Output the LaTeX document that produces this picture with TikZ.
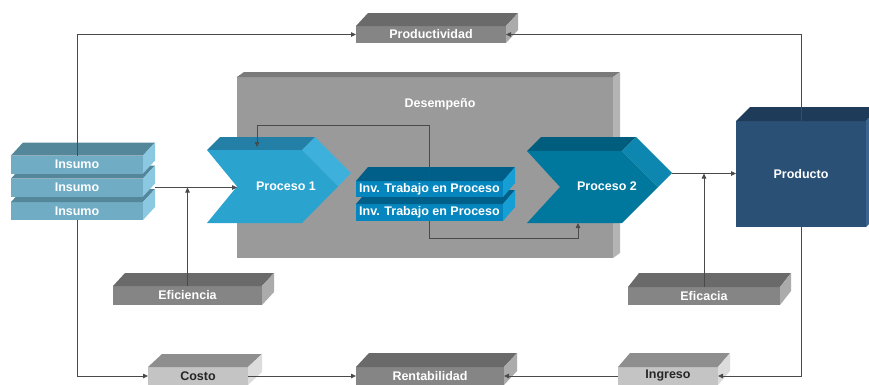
\documentclass[tikz,border=0pt]{standalone}
\usepackage{fontspec}
\setmainfont{Liberation Sans}
\usetikzlibrary{calc,arrows.meta}
\definecolor{gF}{HTML}{858585}\definecolor{gT}{HTML}{6A6A6A}\definecolor{gS}{HTML}{ABABAB}
\definecolor{lF}{HTML}{C4C4C4}\definecolor{lT}{HTML}{8E8E8E}\definecolor{lS}{HTML}{DCDCDC}
\definecolor{iF}{HTML}{70ACC4}\definecolor{iT}{HTML}{55879B}\definecolor{iS}{HTML}{8AC9E1}
\definecolor{pF}{HTML}{2BA3CF}\definecolor{pT}{HTML}{237FA6}\definecolor{pS}{HTML}{3DB0DC}
\definecolor{vF}{HTML}{0586BE}\definecolor{vT}{HTML}{005F88}\definecolor{vS}{HTML}{159FD5}
\definecolor{qF}{HTML}{00789E}\definecolor{qT}{HTML}{005D7E}\definecolor{qS}{HTML}{0E87B0}
\definecolor{rF}{HTML}{2A5075}\definecolor{rT}{HTML}{1E3C5A}\definecolor{rS}{HTML}{3A6590}
\definecolor{dF}{HTML}{9A9A9A}\definecolor{dT}{HTML}{7A7A7A}\definecolor{dS}{HTML}{B4B4B4}
\definecolor{ln}{HTML}{4A4A4A}
\newcommand\boxfaces[5]{%
  \fill[#2] (#1.north west) -- ++(#4,-#5) -- ($(#1.north east)+(#4,-#5)$) -- (#1.north east) -- cycle;
  \fill[#3] (#1.north east) -- ++(#4,-#5) -- ($(#1.south east)+(#4,-#5)$) -- (#1.south east) -- cycle;}
\tikzset{
  lab/.style={font=\fontsize{12.5}{14}\selectfont\bfseries},
  front/.style={lab,inner sep=0,outer sep=0,text=white},
  conn/.style={draw=ln,line width=0.8pt,-{Triangle[length=5pt,width=4.5pt]}},
  plain/.style={draw=ln,line width=0.8pt}
}
\begin{document}
\begin{tikzpicture}[x=1pt,y=-1pt]
\clip (0,0) rectangle (869,384);
\fill[white] (0,0) rectangle (869,384);
% Desempeno
\node[front,fill=dF,minimum width=376,minimum height=181] (desemp) at (425,167.5) {};
\boxfaces{desemp}{dT}{dS}{7}{5}
\node[front] (desempt) at (440,104) {Desempeño};
% Proceso 1
\fill[pT] (207,150) -- (220,137) -- (315,137) -- (302,150) -- cycle;
\fill[pS] (302,150) -- (315,137) -- (351,173) -- (338,186.5) -- cycle;
\fill[pF] (207,150) -- (302,150) -- (338,186.5) -- (302,223) -- (207,223) -- (237,186.5) -- cycle;
\node[front] (p1) at (286,186.5) {Proceso 1};
\coordinate (p1notch) at (237,186.5);
\coordinate (p1top) at (257,147);
\coordinate (fbturn) at (257,125);
% Proceso 2
\fill[qT] (527,151) -- (541,137) -- (636,137) -- (622,151) -- cycle;
\fill[qS] (622,151) -- (636,137) -- (672,173) -- (658,187) -- cycle;
\fill[qF] (527,151) -- (622,151) -- (658,187) -- (622,223) -- (527,223) -- (560,187) -- cycle;
\node[front] (p2) at (607,186.5) {Proceso 2};
\coordinate (p2tip) at (672,173.5);
\coordinate (p2bot) at (578,223);
% Inv boxes
\node[front,fill=vF,minimum width=147,minimum height=17] (inv2) at (429.5,212.5) {Inv. Trabajo en Proceso};
\boxfaces{inv2}{vT}{vS}{12}{14}
\node[front,fill=vF,minimum width=147,minimum height=16] (inv1) at (429.5,189) {Inv. Trabajo en Proceso};
\boxfaces{inv1}{vT}{vS}{12}{14}
% Insumo
\node[front,fill=iF,minimum width=132,minimum height=18] (ins3) at (77,211) {Insumo};
\boxfaces{ins3}{iT}{iS}{12}{13}
\node[front,fill=iF,minimum width=132,minimum height=18] (ins2) at (77,187.5) {Insumo};
\boxfaces{ins2}{iT}{iS}{12}{13}
\node[front,fill=iF,minimum width=132,minimum height=18] (ins1) at (77,164.5) {Insumo};
\boxfaces{ins1}{iT}{iS}{12}{13}
% Producto
\node[front,fill=rF,minimum width=130,minimum height=106] (prodto) at (801,174) {Producto};
\boxfaces{prodto}{rT}{rS}{14}{14}
% Top / side gray boxes
\node[front,fill=gF,minimum width=150,minimum height=17] (prod) at (431,34.5) {Productividad};
\boxfaces{prod}{gT}{gS}{12}{13}
\node[front,fill=gF,minimum width=149,minimum height=19] (eff) at (187.5,295.5) {Eficiencia};
\boxfaces{eff}{gT}{gS}{12}{13}
\node[front,fill=gF,minimum width=152,minimum height=18] (efc) at (704,296) {Eficacia};
\boxfaces{efc}{gT}{gS}{11}{14}
\node[front,fill=gF,minimum width=148,minimum height=18] (rent) at (430,376) {Rentabilidad};
\boxfaces{rent}{gT}{gS}{13}{14}
\node[front,fill=lF,text=black!85,minimum width=100,minimum height=18] (costo) at (198,376) {Costo};
\boxfaces{costo}{lT}{lS}{14}{13}
\node[front,fill=lF,text=black!85,minimum width=100,minimum height=18] (ingr) at (668,376) {Ingreso};
\boxfaces{ingr}{lT}{lS}{12}{14}
% Connectors
\draw[conn] (ins1.north) |- (prod.west);
\draw[conn] (ins3.south) |- (costo.west);
\draw[conn] (prodto.north) |- (prod.east);
\draw[conn] (prodto.south) |- (ingr.east);
\draw[conn] (costo.east) -- (rent.west);
\draw[conn] (ingr.west) -- (rent.east);
\draw[conn] ([xshift=12pt]ins2.east) -- (ins2.east -| p1notch);
\draw[conn] (eff.north) -- (eff.north |- ins2.east);
\draw[conn] (p2tip) -- (p2tip -| prodto.west);
\draw[conn] (efc.north) -- (efc.north |- p2tip);
\draw[conn] (inv1.north) |- (fbturn) -- (p1top);
\draw[conn] (inv2.south) -- ++(0,17.5) -| (p2bot);
\end{tikzpicture}
\end{document}
